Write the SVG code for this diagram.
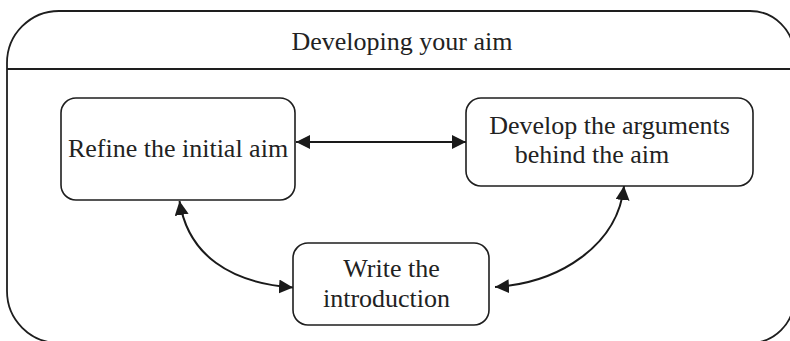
<svg xmlns="http://www.w3.org/2000/svg" width="790" height="341" viewBox="0 0 790 341">
  <style>
    .frame { fill: none; stroke: #1e1e1e; stroke-width: 1.8; }
    .box { fill: #ffffff; stroke: #1e1e1e; stroke-width: 1.6; }
    .lbl { font-family: "Liberation Serif", "Times New Roman", serif; font-size: 26px; fill: #222222; text-anchor: middle; }
    .conn { fill: none; stroke: #1a1a1a; stroke-width: 2; }
  </style>
  <defs>
    <marker id="arrow" viewBox="0 0 14 14" refX="14" refY="7" markerWidth="14" markerHeight="14" markerUnits="userSpaceOnUse" orient="auto-start-reverse">
      <path d="M0,0 L14,7 L0,14 Z" fill="#1a1a1a"/>
    </marker>
  </defs>
  <rect width="790" height="341" fill="#ffffff"/>

  <g id="container">
    <path class="frame" d="M59,11 H750 A44,44 0 0 1 794,55 V299 A44,44 0 0 1 750,343 H59 A52,52 0 0 1 7,291 V63 A52,52 0 0 1 59,11 Z"/>
    <line class="frame" x1="7" y1="69" x2="795" y2="69"/>
    <text class="lbl" x="402" y="50">Developing your aim</text>
  </g>

  <g id="connectors">
    <path class="conn" d="M296,142 H466" marker-start="url(#arrow)" marker-end="url(#arrow)"/>
    <path class="conn" d="M179.5,201 C188,255 230,283 293,287.5" marker-start="url(#arrow)" marker-end="url(#arrow)"/>
    <path class="conn" d="M495,287 C560,283 618,245 624,186" marker-start="url(#arrow)" marker-end="url(#arrow)"/>
  </g>

  <g id="refine">
    <rect class="box" x="61" y="98" width="234" height="102" rx="15"/>
    <text class="lbl" x="178" y="157">Refine the initial aim</text>
  </g>

  <g id="develop">
    <rect class="box" x="466" y="98" width="287" height="88" rx="15"/>
    <text class="lbl" x="609.5" y="134">Develop the arguments</text>
    <text class="lbl" x="592" y="163">behind the aim</text>
  </g>

  <g id="write">
    <rect class="box" x="293" y="243" width="196" height="82" rx="15"/>
    <text class="lbl" x="391.5" y="277">Write the</text>
    <text class="lbl" x="386.5" y="307">introduction</text>
  </g>
</svg>
